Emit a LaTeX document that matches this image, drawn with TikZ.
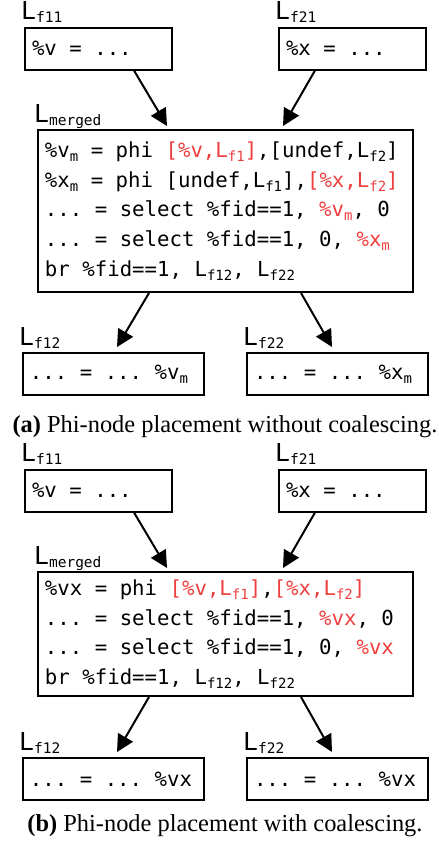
\documentclass[tikz,border=0pt]{standalone}
\usepackage{fontspec}
\setmainfont{Liberation Serif}
\newfontfamily\codefont{DejaVu Sans Mono}
\usetikzlibrary{arrows.meta,calc}
\definecolor{cred}{RGB}{238,62,62}
\newcommand\fixsp{\fontdimen2\font=0.6021em\fontdimen3\font=0pt\fontdimen4\font=0pt\fontdimen7\font=0pt\relax}
\newcommand\codeln[1]{\mbox{\spaceskip=0pt\xspaceskip=0pt #1}}
\newcommand\csub[1]{\raisebox{-4pt}{\fontsize{14}{14}\selectfont #1}}
\newcommand\lsub[1]{\raisebox{-3pt}{\fontsize{14.5}{14.5}\selectfont #1}}
\newcommand\rd[1]{\textcolor{cred}{#1}}
\begin{document}
\begin{tikzpicture}[x=1pt,y=-1pt,
  codebox/.style={draw, line width=2pt, font=\codefont\fontsize{20.7}{29.7}\selectfont\fixsp,
    align=flush left, inner xsep=7pt, inner ysep=0pt, anchor=center},
  small/.style={codebox, text width=133pt, minimum height=42pt},
  wide/.style={codebox, text width=167pt, minimum height=42pt},
  big/.style={codebox, text width=361pt},
  lab/.style={font=\codefont\fontsize{24.7}{26}\selectfont, inner sep=0pt, anchor=base west},
  arr/.style={line width=2pt, -{Triangle[length=17pt,width=17pt]}},
  capt/.style={font=\fontsize{24.4}{26}\selectfont, inner sep=0pt, anchor=base}]
\useasboundingbox (0,0) rectangle (439,847);

% ---------- panel (a) ----------
\node[small] (a11) at (98.5,48.5) {\codeln{\%v = ...}};
\node[small] (a21) at (352.5,48.5) {\codeln{\%x = ...}};
\node[big, minimum height=162pt] (am) at (225.5,211) {%
\codeln{\%v\csub{m} = phi \rd{[\%v,L\csub{f1}]},[undef,L\csub{f2}]}\\
\codeln{\%x\csub{m} = phi [undef,L\csub{f1}],\rd{[\%x,L\csub{f2}]}}\\
\codeln{... = select \%fid==1, \rd{\%v\csub{m}}, 0}\\
\codeln{... = select \%fid==1, 0, \rd{\%x\csub{m}}}\\
\codeln{br \%fid==1, L\csub{f12}, L\csub{f22}}};
\node[wide] (a12) at (113.5,374) {\codeln{... = ... \%v\csub{m}}};
\node[wide] (a22) at (337.5,374) {\codeln{... = ... \%x\csub{m}}};

\node[lab] (la11) at ($(a11.north west)+(-3,-7)$) {L\lsub{f11}};
\node[lab] (la21) at ($(a21.north west)+(-3,-7)$) {L\lsub{f21}};
\node[lab] (lam) at ($(am.north west)+(-3,-7)$) {L\lsub{merged}};
\node[lab] (la12) at ($(a12.north west)+(-3,-7)$) {L\lsub{f12}};
\node[lab] (la22) at ($(a22.north west)+(-3,-7)$) {L\lsub{f22}};

\draw[arr] ($(a11.south west)+(110,0)$) -- ($(am.north west)+(130,-3)$);
\draw[arr] ($(a21.south west)+(37,0)$) -- ($(am.north west)+(246,-3)$);
\draw[arr] ($(am.south west)+(112,0)$) -- ($(a12.north west)+(95,-5)$);
\draw[arr] ($(am.south west)+(264,0)$) -- ($(a22.north west)+(86,-5)$);

\node[capt] (capa) at (225,432.7) {\textbf{(a)} Phi-node placement without coalescing.};

% ---------- panel (b) ----------
\node[small] (b11) at (98.5,490.5) {\codeln{\%v = ...}};
\node[small] (b21) at (352.5,490.5) {\codeln{\%x = ...}};
\node[big, minimum height=124pt] (bm) at (225.5,634) {%
\codeln{\%vx = phi \rd{[\%v,L\csub{f1}]},\rd{[\%x,L\csub{f2}]}}\\
\codeln{... = select \%fid==1, \rd{\%vx}, 0}\\
\codeln{... = select \%fid==1, 0, \rd{\%vx}}\\
\codeln{br \%fid==1, L\csub{f12}, L\csub{f22}}};
\node[wide] (b12) at (113.5,779) {\codeln{... = ... \%vx}};
\node[wide] (b22) at (337.5,779) {\codeln{... = ... \%vx}};

\node[lab] (lb11) at ($(b11.north west)+(-3,-7)$) {L\lsub{f11}};
\node[lab] (lb21) at ($(b21.north west)+(-3,-7)$) {L\lsub{f21}};
\node[lab] (lbm) at ($(bm.north west)+(-3,-7)$) {L\lsub{merged}};
\node[lab] (lb12) at ($(b12.north west)+(-3,-7)$) {L\lsub{f12}};
\node[lab] (lb22) at ($(b22.north west)+(-3,-7)$) {L\lsub{f22}};

\draw[arr] ($(b11.south west)+(110,0)$) -- ($(bm.north west)+(130,-3)$);
\draw[arr] ($(b21.south west)+(37,0)$) -- ($(bm.north west)+(246,-3)$);
\draw[arr] ($(bm.south west)+(112,0)$) -- ($(b12.north west)+(95,-5)$);
\draw[arr] ($(bm.south west)+(264,0)$) -- ($(b22.north west)+(86,-5)$);

\node[capt] (capb) at (225,831) {\textbf{(b)} Phi-node placement with coalescing.};
\end{tikzpicture}
\end{document}
